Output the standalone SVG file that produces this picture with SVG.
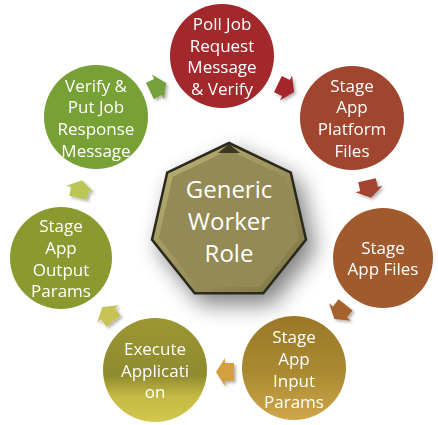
<svg xmlns="http://www.w3.org/2000/svg" width="438" height="425" viewBox="0 0 438 425">
  <defs>
    <style>
      .lbl { font-family: "Open Sans", "Liberation Sans", sans-serif; font-size: 17px; fill: #ffffff; text-anchor: middle; }
      .hub { font-family: "Open Sans", "Liberation Sans", sans-serif; font-size: 24px; fill: #ffffff; text-anchor: middle; }
    </style>
    <filter id="hubShadow" x="-40%" y="-40%" width="180%" height="180%">
      <feGaussianBlur in="SourceAlpha" stdDeviation="11"/>
      <feOffset dx="8" dy="10" result="b"/>
      <feComponentTransfer><feFuncA type="linear" slope="0.5"/></feComponentTransfer>
      <feMerge><feMergeNode/><feMergeNode in="SourceGraphic"/></feMerge>
    </filter>
    <filter id="soft" x="-30%" y="-30%" width="160%" height="160%">
      <feGaussianBlur in="SourceAlpha" stdDeviation="1.5"/>
      <feOffset dx="1.5" dy="2" result="b"/>
      <feComponentTransfer><feFuncA type="linear" slope="0.3"/></feComponentTransfer>
      <feMerge><feMergeNode/><feMergeNode in="SourceGraphic"/></feMerge>
    </filter>
    <linearGradient id="gInput" x1="0" y1="0" x2="0" y2="1">
      <stop offset="0" stop-color="#9A7828"/>
      <stop offset="0.55" stop-color="#A98A32"/>
      <stop offset="1" stop-color="#D0A64A"/>
    </linearGradient>
    <linearGradient id="gExec" x1="0" y1="0" x2="0" y2="1">
      <stop offset="0" stop-color="#9C9633"/>
      <stop offset="0.55" stop-color="#8F8A2E"/>
      <stop offset="0.75" stop-color="#C4B944"/>
      <stop offset="1" stop-color="#D2C64C"/>
    </linearGradient>
    <linearGradient id="gHub" x1="0" y1="0" x2="1" y2="1">
      <stop offset="0" stop-color="#BDB376"/>
      <stop offset="1" stop-color="#7C7344"/>
    </linearGradient>
    <!-- block arrow pointing along +x, centred on the origin -->
    <path id="arr" d="M-9,-9 L0,-9 L0,-14 L9,0 L0,14 L0,9 L-9,9 Z"/>
  </defs>

  <!-- central hub -->
  <g id="hub">
    <polygon points="229,143 290.8,172.7 306,239.6 263.3,293.2 194.7,293.2 152,239.6 167.2,172.7" fill="url(#gHub)" stroke="#2B2A1E" stroke-width="2.5" stroke-linejoin="miter" filter="url(#hubShadow)"/>
    <polygon points="229,150 285.3,177.1 299.2,238 260.2,286.9 197.8,286.9 158.8,238 172.7,177.1" fill="#938A55"/>
    <polygon points="229,144 240,153 218,153" fill="#3A3824"/>
    <text class="hub" x="229" y="198">Generic</text>
    <text class="hub" x="229" y="230">Worker</text>
    <text class="hub" x="229" y="262">Role</text>
  </g>

  <!-- cycle arrows -->
  <g id="connectors" filter="url(#soft)">
    <use href="#arr" fill="#A3282C" transform="translate(286,88) rotate(25.7)"/>
    <use href="#arr" fill="#A2452E" transform="translate(369,189) rotate(77.1)"/>
    <use href="#arr" fill="#A5622E" transform="translate(340,312) rotate(128.6)"/>
    <use href="#arr" fill="#D3A040" transform="translate(225,372) rotate(180)"/>
    <use href="#arr" fill="#C9C254" transform="translate(108,314) rotate(231.4)"/>
    <use href="#arr" fill="#BBC755" transform="translate(80,189) rotate(282.9)"/>
    <use href="#arr" fill="#76A03A" transform="translate(158,87) rotate(334.3)"/>
  </g>

  <g id="poll">
    <circle cx="222" cy="56" r="52" fill="#A3282B"/>
    <text class="lbl" x="222" y="30">Poll Job</text>
    <text class="lbl" x="222" y="52">Request</text>
    <text class="lbl" x="222" y="73">Message</text>
    <text class="lbl" x="222" y="95">&amp; Verify</text>
  </g>

  <g id="stage-platform">
    <circle cx="352" cy="118" r="52" fill="#A0452E"/>
    <text class="lbl" x="352" y="92">Stage</text>
    <text class="lbl" x="352" y="113">App</text>
    <text class="lbl" x="352" y="135">Platform</text>
    <text class="lbl" x="352" y="157">Files</text>
  </g>

  <g id="stage-files">
    <circle cx="383" cy="258" r="50" fill="#A05A2D"/>
    <text class="lbl" x="383" y="254">Stage</text>
    <text class="lbl" x="383" y="275">App Files</text>
  </g>

  <g id="stage-input">
    <circle cx="294" cy="368" r="52" fill="url(#gInput)"/>
    <text class="lbl" x="294" y="343">Stage</text>
    <text class="lbl" x="294" y="365">App</text>
    <text class="lbl" x="294" y="387">Input</text>
    <text class="lbl" x="294" y="408">Params</text>
  </g>

  <g id="execute">
    <circle cx="155" cy="370" r="52" fill="url(#gExec)"/>
    <text class="lbl" x="155" y="355">Execute</text>
    <text class="lbl" x="155" y="377">Applicati</text>
    <text class="lbl" x="155" y="398">on</text>
  </g>

  <g id="stage-output">
    <circle cx="61" cy="258" r="51" fill="#8B9A30"/>
    <text class="lbl" x="61" y="232">Stage</text>
    <text class="lbl" x="61" y="254">App</text>
    <text class="lbl" x="61" y="276">Output</text>
    <text class="lbl" x="61" y="297">Params</text>
  </g>

  <g id="verify-put">
    <circle cx="96" cy="117" r="52" fill="#77A035"/>
    <text class="lbl" x="96" y="92">Verify &amp;</text>
    <text class="lbl" x="96" y="113">Put Job</text>
    <text class="lbl" x="96" y="135">Response</text>
    <text class="lbl" x="96" y="157">Message</text>
  </g>
</svg>
